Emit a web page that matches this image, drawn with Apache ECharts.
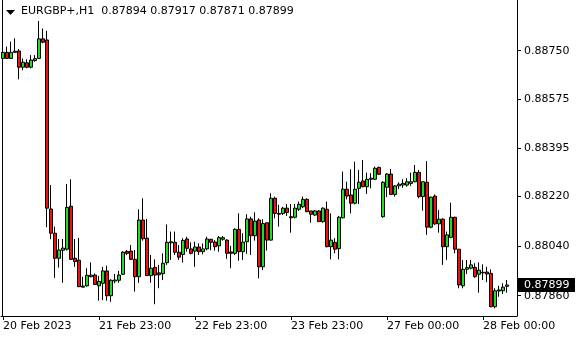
<!DOCTYPE html>
<html>
<head>
<meta charset="utf-8">
<script src="https://cdn.jsdelivr.net/npm/echarts@6/dist/echarts.min.js"></script>
<style>html,body{margin:0;padding:0;background:#fff}#c{width:580px;height:340px}</style>
</head>
<body>
<div id="c"></div>
<script>
// Hourly bar times (category axis)
const times = [];
function pushDay(day, h0, h1) { for (let h = h0; h <= h1; h++) times.push(day + ' ' + String(h).padStart(2, '0') + ':00'); }
pushDay('20 Feb', 23, 23); pushDay('21 Feb', 0, 23); pushDay('22 Feb', 0, 23); pushDay('23 Feb', 0, 23);
pushDay('24 Feb', 0, 22); pushDay('27 Feb', 0, 23); pushDay('28 Feb', 0, 6);
const emptySlots = ['', ''];

// OHLC per bar: [open, close, low, high]
const ohlc = [
[0.88722,0.88744,0.88710,0.88773],[0.88744,0.88722,0.88720,0.88765],[0.88722,0.88744,0.88722,0.88783],[0.88748,0.88744,0.88744,0.88795],
[0.88749,0.88690,0.88646,0.88756],[0.88690,0.88708,0.88679,0.88722],[0.88706,0.88690,0.88686,0.88719],[0.88690,0.88716,0.88686,0.88734],
[0.88714,0.88721,0.88710,0.88734],[0.88722,0.88793,0.88722,0.88858],[0.88793,0.88781,0.88777,0.88831],[0.88789,0.88178,0.88109,0.88822],
[0.88175,0.88087,0.88065,0.88262],[0.88087,0.87996,0.87925,0.88111],[0.87996,0.88026,0.87962,0.88066],[0.88025,0.88033,0.87907,0.88066],
[0.88029,0.88181,0.88024,0.88266],[0.88185,0.87992,0.87990,0.88283],[0.87996,0.87984,0.87965,0.88066],[0.87989,0.87893,0.87891,0.88070],
[0.87891,0.87895,0.87891,0.87929],[0.87896,0.87934,0.87893,0.87960],[0.87929,0.87935,0.87927,0.87981],[0.87935,0.87901,0.87899,0.87941],
[0.87896,0.87912,0.87842,0.87932],[0.87905,0.87950,0.87844,0.87965],[0.87950,0.87860,0.87842,0.87969],[0.87860,0.87916,0.87838,0.87920],
[0.87913,0.87917,0.87905,0.87939],[0.87916,0.87935,0.87907,0.87950],[0.87938,0.88018,0.87935,0.88022],[0.88021,0.88014,0.88008,0.88026],
[0.88022,0.87992,0.87990,0.88044],[0.87992,0.87929,0.87875,0.88026],[0.87929,0.88135,0.87907,0.88174],[0.88135,0.88067,0.88060,0.88214],
[0.88069,0.87933,0.87933,0.88139],[0.87933,0.87960,0.87907,0.88008],[0.87963,0.87935,0.87829,0.87992],[0.87943,0.87936,0.87887,0.87972],
[0.87940,0.87978,0.87917,0.88014],[0.87980,0.88054,0.87972,0.88119],[0.88052,0.88056,0.87990,0.88093],[0.88054,0.88018,0.88008,0.88093],
[0.88018,0.88000,0.87990,0.88044],[0.88010,0.88061,0.87981,0.88069],[0.88066,0.88032,0.88020,0.88074],[0.88030,0.88014,0.88010,0.88054],
[0.88022,0.88037,0.87965,0.88056],[0.88037,0.88020,0.88008,0.88050],[0.88020,0.88030,0.88010,0.88050],[0.88030,0.88066,0.88025,0.88074],
[0.88065,0.88054,0.88025,0.88066],[0.88055,0.88038,0.88024,0.88062],[0.88041,0.88071,0.88020,0.88077],[0.88065,0.88071,0.88060,0.88077],
[0.88062,0.88014,0.87994,0.88065],[0.88019,0.88014,0.87960,0.88041],[0.88014,0.88101,0.88008,0.88105],[0.88101,0.88020,0.87987,0.88159],
[0.88020,0.88055,0.87990,0.88087],[0.88056,0.88139,0.88012,0.88156],[0.88139,0.88078,0.88008,0.88147],[0.88078,0.88131,0.88060,0.88163],
[0.88135,0.87965,0.87923,0.88141],[0.87965,0.88122,0.87953,0.88138],[0.88125,0.88062,0.88024,0.88125],[0.88062,0.88214,0.88060,0.88232],
[0.88214,0.88159,0.88141,0.88220],[0.88159,0.88156,0.88111,0.88190],[0.88159,0.88178,0.88153,0.88183],[0.88178,0.88162,0.88150,0.88193],
[0.88147,0.88143,0.88089,0.88193],[0.88145,0.88178,0.88141,0.88193],[0.88174,0.88192,0.88168,0.88202],[0.88183,0.88210,0.88178,0.88220],
[0.88210,0.88165,0.88164,0.88214],[0.88168,0.88156,0.88125,0.88168],[0.88153,0.88168,0.88150,0.88171],[0.88168,0.88129,0.88128,0.88171],
[0.88129,0.88178,0.88125,0.88181],[0.88174,0.88038,0.88036,0.88202],[0.88038,0.88062,0.87992,0.88159],[0.88054,0.88029,0.88014,0.88069],
[0.88031,0.88145,0.87992,0.88150],[0.88143,0.88247,0.88141,0.88311],[0.88247,0.88222,0.88210,0.88274],[0.88226,0.88196,0.88159,0.88319],
[0.88196,0.88247,0.88192,0.88347],[0.88250,0.88272,0.88193,0.88317],[0.88277,0.88256,0.88254,0.88353],[0.88256,0.88283,0.88230,0.88307],
[0.88283,0.88287,0.88250,0.88305],[0.88283,0.88323,0.88280,0.88329],[0.88326,0.88301,0.88299,0.88329],[0.88147,0.88272,0.88143,0.88276],
[0.88254,0.88302,0.88218,0.88305],[0.88302,0.88228,0.88226,0.88320],[0.88228,0.88259,0.88220,0.88262],[0.88259,0.88265,0.88247,0.88272],
[0.88262,0.88268,0.88252,0.88283],[0.88262,0.88274,0.88256,0.88287],[0.88268,0.88274,0.88259,0.88307],[0.88274,0.88308,0.88272,0.88335],
[0.88308,0.88220,0.88214,0.88317],[0.88220,0.88274,0.88169,0.88274],[0.88272,0.88109,0.88081,0.88349],[0.88109,0.88218,0.88105,0.88220],
[0.88222,0.88121,0.88117,0.88228],[0.88121,0.88138,0.88089,0.88171],[0.88138,0.88038,0.87972,0.88141],[0.88038,0.88081,0.87990,0.88093],
[0.88072,0.88145,0.88069,0.88198],[0.88145,0.88029,0.88014,0.88147],[0.88029,0.87899,0.87887,0.88029],[0.87896,0.87956,0.87887,0.87990],
[0.87956,0.87962,0.87939,0.87990],[0.87960,0.87972,0.87956,0.87990],[0.87963,0.87929,0.87925,0.87978],[0.87938,0.87953,0.87871,0.87981],
[0.87945,0.87943,0.87917,0.87974],[0.87946,0.87939,0.87909,0.87965],[0.87941,0.87820,0.87818,0.87956],[0.87820,0.87878,0.87814,0.87887],
[0.87877,0.87881,0.87856,0.87896],[0.87878,0.87891,0.87866,0.87905],[0.87894,0.87899,0.87871,0.87917]
];

const yTickLabels = ['0.87860', '0.88040', '0.88220', '0.88395', '0.88575', '0.88750'];
const xTickIndex = [0, 24, 48, 72, 96, 120];
const xTickLabels = ['20 Feb 2023', '21 Feb 23:00', '22 Feb 23:00', '23 Feb 23:00', '27 Feb 00:00', '28 Feb 00:00'];
const symbolName = 'EURGBP+,H1';
const lastBar = ohlc[ohlc.length - 1];
const headerText = symbolName + '  ' + [lastBar[0], lastBar[3], lastBar[2], lastBar[1]].map(v => v.toFixed(5)).join(' ');
const currentPrice = lastBar[1];
const yMin = 0.877863, yMax = 0.889342;

const FONT = 'DejaVu Sans';
const chart = echarts.init(document.getElementById('c'), null, { renderer: 'canvas' });
chart.setOption({
  animation: false,
  backgroundColor: '#ffffff',
  title: {
    text: headerText, left: 21, top: 6, padding: 0,
    textStyle: { fontFamily: FONT, fontSize: 11, fontWeight: 'normal', color: '#000' }
  },
  graphic: [{
    type: 'polygon', shape: { points: [[6, 10], [15, 10], [10.5, 15]] }, style: { fill: '#000' }
  }],
  grid: { left: 1, right: 63, top: 0, bottom: 24 },
  xAxis: {
    type: 'category',
    data: times.concat(emptySlots),
    boundaryGap: true,
    axisLine: { show: true, lineStyle: { color: '#000', width: 1 } },
    axisTick: { show: true, alignWithLabel: true, length: 4, lineStyle: { color: '#000' },
      interval: (i) => xTickIndex.includes(i) },
    axisLabel: {
      interval: (i) => xTickIndex.includes(i),
      formatter: (v, i) => { const k = xTickIndex.indexOf(i); return k >= 0 ? xTickLabels[k] : ''; },
      align: 'left', margin: 5, color: '#000', fontFamily: FONT, fontSize: 11
    },
    splitLine: { show: false }
  },
  yAxis: [{
    type: 'value', position: 'right', min: yMin, max: yMax, scale: true,
    axisLine: { show: true, lineStyle: { color: '#000', width: 1 } },
    axisTick: { show: true, length: 4, lineStyle: { color: '#000' }, customValues: yTickLabels.map(Number) },
    axisLabel: { customValues: yTickLabels.map(Number), formatter: v => v.toFixed(5),
      margin: 7, color: '#000', fontFamily: FONT, fontSize: 11 },
    splitLine: { show: false }
  }, {
    type: 'value', position: 'left', min: yMin, max: yMax, offset: -1,
    axisLine: { show: true, lineStyle: { color: '#000', width: 1 } },
    axisTick: { show: false }, axisLabel: { show: false }, splitLine: { show: false }
  }],
  series: [{
    type: 'candlestick',
    data: ohlc,
    barWidth: 3,
    itemStyle: {
      color: '#22dd22', color0: '#ee1111',
      borderColor: '#000', borderColor0: '#000', borderColorDoji: '#000', borderWidth: 1
    }
  }]
});

// Current price tag on the price scale, placed through the axis scale
const py = chart.convertToPixel({ yAxisIndex: 0 }, currentPrice);
const gridRight = 580 - 63;
chart.setOption({
  graphic: [{
    type: 'polygon', shape: { points: [[6, 10], [15, 10], [10.5, 15]] }, style: { fill: '#000' }
  }, {
    type: 'group', x: gridRight, y: Math.round(py) - 7, z: 100,
    children: [
      { type: 'rect', shape: { x: 0, y: 0, width: 58, height: 14 }, style: { fill: '#000' } },
      { type: 'text', x: 7, y: 7, style: { text: currentPrice.toFixed(5), fill: '#fff',
        font: '11px "' + FONT + '"', verticalAlign: 'middle', align: 'left' } }
    ]
  }]
});
</script>
</body>
</html>
